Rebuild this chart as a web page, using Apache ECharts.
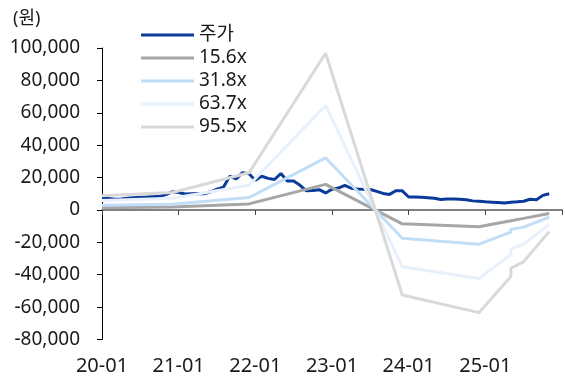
<!DOCTYPE html>
<html>
<head>
<meta charset="utf-8">
<script src="https://cdn.jsdelivr.net/npm/echarts@6/dist/echarts.min.js"></script>
<style>
html,body{margin:0;padding:0;background:#fff;}
#chart{width:565px;height:383px;}
</style>
</head>
<body>
<div id="chart"></div>
<script>
// x tick labels (one per year, every 12 months from 2020-01)
const xTickLabels = ['20-01', '21-01', '22-01', '23-01', '24-01', '25-01'];
// monthly stock price, 2020-01 .. 2025-11 (index = months since 2020-01)
const stockPrice = [7400, 7000, 6600, 6800, 7200, 7600, 7900, 8000, 8200, 8400,
  9500, 11200, 10800, 9800, 10000, 10200, 10000, 11200, 12800, 14000,
  20800, 19200, 23000, 22400, 18300, 20800, 19500, 18800, 22500, 17900,
  17800, 15200, 11800, 12000, 12500, 10500, 12800, 13500, 15200, 13400,
  13000, 12700, 12600, 11500, 10200, 9600, 11900, 11800, 8000, 8000,
  7800, 7500, 7200, 6400, 6800, 6800, 6600, 6300, 5600, 5300,
  5000, 4800, 4600, 4300, 4800, 5000, 5400, 6600, 6300, 9000, 10000];
// PER band breakpoints (months since 2020-01)
const bandMonths = [0, 11, 23, 35, 47, 59, 64, 64, 66, 70];
const band156 = [1430, 1760, 3740, 15800, -8580, -10360, -6720, -5880, -5210, -2180];
const band318 = [2930, 3590, 7630, 32200, -17490, -21120, -13710, -11990, -10620, -4450];
const band637 = [5860, 7200, 15290, 64530, -35040, -42300, -27460, -24020, -21280, -8920];
const band955 = [8790, 10790, 22920, 96740, -52530, -63410, -41160, -36000, -31900, -13370];
const seriesNames = ['주가', '15.6x', '31.8x', '63.7x', '95.5x'];
const colors = ['#0A3A9A', '#A6A6A6', '#C2DDF6', '#E8F1FB', '#D9D9D9'];

const FONT = '"Noto Sans", "Noto Sans CJK KR", sans-serif';
const chart = echarts.init(document.getElementById('chart'), null, {renderer: 'canvas'});

const pairs = (xs, ys) => ys.map((v, i) => [xs[i], v]);
const stockData = stockPrice.map((v, i) => [i, v]);
const bandSets = [band156, band318, band637, band955];

const xCommon = {
  type: 'value', min: 0, max: 72, interval: 12,
  splitLine: {show: false}
};

const option = {
  animation: false,
  color: colors,
  textStyle: {fontFamily: FONT},
  title: {
    text: '(원)', left: 8, top: 5,
    textStyle: {fontFamily: FONT, fontSize: 18, fontWeight: 'normal', color: '#1a1a1a'}
  },
  legend: {
    orient: 'vertical', left: 136, top: 20,
    icon: 'rect', itemWidth: 53, itemHeight: 3, itemGap: 3,
    textStyle: {fontFamily: FONT, fontSize: 19, color: '#1a1a1a', lineHeight: 20, padding: [0, 0, 0, 0]},
    data: seriesNames
  },
  grid: {left: 102, right: -11, top: 48, bottom: 43.5},
  xAxis: [
    Object.assign({}, xCommon, {
      position: 'bottom',
      axisLine: {show: false, onZero: false},
      axisTick: {show: false},
      axisLabel: {
        show: true, margin: 17, fontSize: 20, color: '#1a1a1a', fontFamily: FONT,
        formatter: v => (v % 12 === 0 && xTickLabels[v / 12]) ? xTickLabels[v / 12] : ''
      }
    }),
    Object.assign({}, xCommon, {
      position: 'bottom',
      axisLine: {show: true, onZero: true, lineStyle: {color: '#808080', width: 2}},
      axisTick: {show: true, length: 5, lineStyle: {color: '#404040', width: 1}},
      axisLabel: {show: false}
    })
  ],
  yAxis: {
    type: 'value', min: -80000, max: 100000, interval: 20000,
    axisLine: {show: true, lineStyle: {color: '#000', width: 1}},
    axisTick: {show: true, length: 5, lineStyle: {color: '#000'}},
    splitLine: {show: false},
    axisLabel: {
      margin: 22, fontSize: 19, color: '#1a1a1a', fontFamily: FONT,
      formatter: v => v.toLocaleString('en-US')
    }
  },
  series: [
    {
      name: seriesNames[0], type: 'line', xAxisIndex: 0, data: stockData,
      showSymbol: false, symbol: 'none', lineStyle: {width: 3, color: colors[0]}, z: 2
    }
  ].concat(bandSets.map((b, k) => ({
    name: seriesNames[k + 1], type: 'line', xAxisIndex: 0, data: pairs(bandMonths, b),
    showSymbol: false, symbol: 'none', lineStyle: {width: 3, color: colors[k + 1]}, z: 3
  })))
};
chart.setOption(option);
</script>
</body>
</html>
